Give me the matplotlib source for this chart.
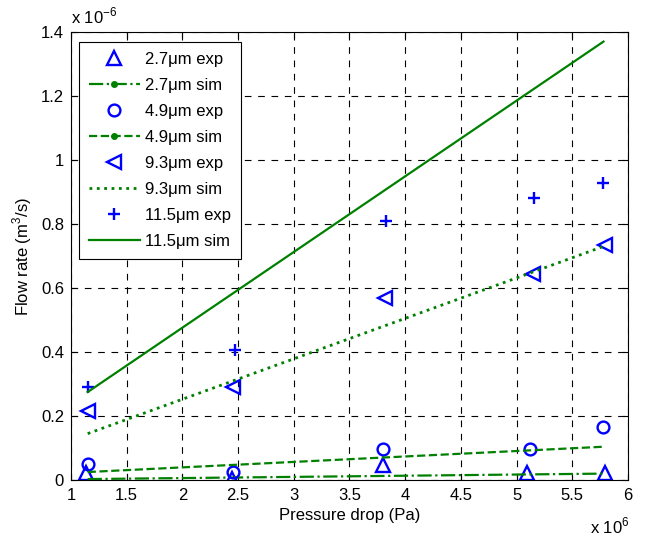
import matplotlib
matplotlib.use('Agg')
import matplotlib.pyplot as plt
from matplotlib.lines import Line2D

plt.rcParams['font.family'] = ['Liberation Sans', 'DejaVu Sans']
plt.rcParams['mathtext.fontset'] = 'custom'
plt.rcParams['mathtext.rm'] = 'Liberation Sans'

# pressure drop in units of 1e6 Pa, flow rate in units of 1e-6 m^3/s
x_27 = [1.135, 2.445, 3.80, 5.09, 5.79]
y_27 = [0.022, 0.002, 0.047, 0.022, 0.022]
x_49 = [1.15, 2.45, 3.80, 5.12, 5.78]
y_49 = [0.050, 0.025, 0.097, 0.097, 0.166]
x_93 = [1.15, 2.45, 3.82, 5.15, 5.79]
y_93 = [0.215, 0.290, 0.569, 0.644, 0.734]
x_115 = [1.15, 2.47, 3.83, 5.16, 5.78]
y_115 = [0.290, 0.405, 0.810, 0.880, 0.928]

sim_x = [1.15, 5.78]
sim_27 = [0.003, 0.020]
sim_49 = [0.025, 0.104]
sim_93 = [0.145, 0.730]
sim_115 = [0.275, 1.370]

labels = ['2.7\u03bcm exp', '2.7\u03bcm sim', '4.9\u03bcm exp', '4.9\u03bcm sim',
          '9.3\u03bcm exp', '9.3\u03bcm sim', '11.5\u03bcm exp', '11.5\u03bcm sim']

blue = (0, 0, 1)
green = (0, 0.5, 0)

fig = plt.figure(figsize=(6.47, 5.37), dpi=100)
ax = fig.add_axes([0.1097, 0.1061, 0.8609, 0.8343])

h1, = ax.plot(x_27, y_27, '^', color=blue, mfc='none', ms=10, mew=1.7)
h2, = ax.plot(sim_x, sim_27, '-.', color=green, lw=1.6)
h3, = ax.plot(x_49, y_49, 'o', color=blue, mfc='none', ms=8.5, mew=1.7)
h4, = ax.plot(sim_x, sim_49, '--', color=green, lw=1.6)
h5, = ax.plot(x_93, y_93, '<', color=blue, mfc='none', ms=10, mew=1.7)
h6, = ax.plot(sim_x, sim_93, ':', color=green, lw=2)
h7, = ax.plot(x_115, y_115, '+', color=blue, ms=8, mew=1.7)
h8, = ax.plot(sim_x, sim_115, '-', color=green, lw=1.6)

# legend shows dot markers on the dashed sim lines
p2 = Line2D([], [], ls='-.', color=green, lw=1.6, marker='.', ms=8)
p4 = Line2D([], [], ls='--', color=green, lw=1.6, marker='.', ms=8)

leg = ax.legend([h1, p2, h3, p4, h5, h6, h7, h8], labels, loc='upper left',
                bbox_to_anchor=(0.0144, 0.9777), borderaxespad=0, numpoints=1,
                fontsize=12, handlelength=3.05, handletextpad=0.3,
                labelspacing=0.66, borderpad=0.6, fancybox=False,
                framealpha=1, edgecolor='black')
leg.get_frame().set_linewidth(0.8)

ax.set_xlim(1, 6)
ax.set_ylim(0, 1.4)
ax.set_xticks([1, 1.5, 2, 2.5, 3, 3.5, 4, 4.5, 5, 5.5, 6])
ax.set_xticklabels(['1', '1.5', '2', '2.5', '3', '3.5', '4', '4.5', '5', '5.5', '6'])
ax.set_yticks([0, 0.2, 0.4, 0.6, 0.8, 1, 1.2, 1.4])
ax.set_yticklabels(['0', '0.2', '0.4', '0.6', '0.8', '1', '1.2', '1.4'])
ax.tick_params(direction='in', top=True, right=True, labelsize=12, length=4, width=0.8)
ax.tick_params(axis='x', pad=6)
ax.tick_params(axis='y', pad=5)
ax.grid(True, color='black', ls=(0, (6, 6)), lw=0.8)
for s in ax.spines.values():
    s.set_linewidth(0.8)

ax.set_xlabel('Pressure drop (Pa)', fontsize=12, labelpad=3)
ax.set_ylabel('Flow rate (m$^3$/s)', fontsize=12, labelpad=5)
ax.text(0.0, 1.012, 'x 10$^{-6}$', transform=ax.transAxes, fontsize=12, va='bottom', ha='left')
ax.text(0.932, -0.08, 'x 10$^{6}$', transform=ax.transAxes, fontsize=12, va='top', ha='left')

fig.savefig('out.png', dpi=100)
